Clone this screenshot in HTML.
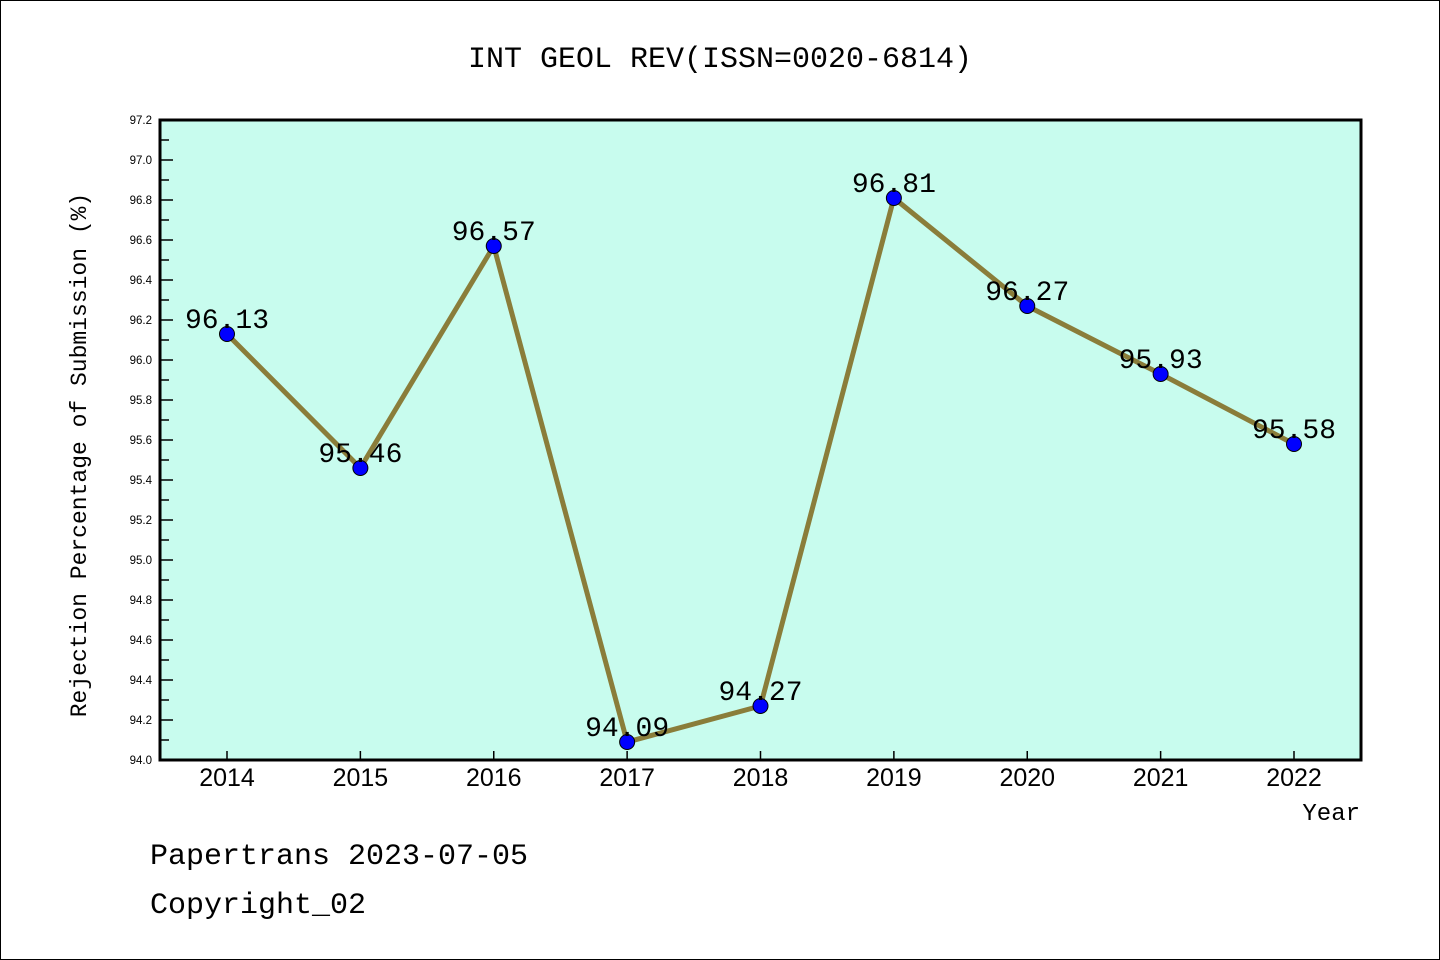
<!DOCTYPE html>
<html><head><meta charset="utf-8"><style>
html,body{margin:0;padding:0;background:#fff}
svg{display:block}
text{font-family:"Liberation Mono","WenQuanYi Zen Hei",monospace}
text.sans{font-family:"Liberation Sans",sans-serif}
</style></head><body>
<svg id="c" width="1440" height="960" viewBox="0 0 1440 960" xmlns="http://www.w3.org/2000/svg">
<rect x="0.5" y="0.5" width="1439" height="959" fill="#fff" stroke="#000" stroke-width="1"/>
<text x="720" y="67" text-anchor="middle" font-size="30">INT GEOL REV(ISSN=0020-6814)</text>
<rect x="160" y="120" width="1201" height="640" fill="#c8fcee"/>
<g id="axes"></g>
<g id="series"></g>
<rect x="160" y="120" width="1201" height="640" fill="none" stroke="#000" stroke-width="3"/>
<text x="86" y="455" transform="rotate(-90 86 455)" text-anchor="middle" font-size="23">Rejection Percentage of Submission (%)</text>
<text x="1360" y="820" text-anchor="end" font-size="24">Year</text>
<text x="150" y="864" font-size="30">Papertrans 2023-07-05</text>
<text x="150" y="913" font-size="30">Copyright_02</text>
</svg>
<script>
const years = ["2014","2015","2016","2017","2018","2019","2020","2021","2022"];
const values = [96.13,95.46,96.57,94.09,94.27,96.81,96.27,95.93,95.58];
const valueLabels = ["96.13","95.46","96.57","94.09","94.27","96.81","96.27","95.93","95.58"];
const yTicks = ["94.0","94.2","94.4","94.6","94.8","95.0","95.2","95.4","95.6","95.8","96.0","96.2","96.4","96.6","96.8","97.0","97.2"];
const NS="http://www.w3.org/2000/svg";
const yMin=94.0,yMax=97.2,plotTop=120,plotBot=760;
function yS(v){return plotBot-(v-yMin)/(yMax-yMin)*(plotBot-plotTop);}
function xS(i){return 227+i*133.375;}
function mk(t,a,p){const e=document.createElementNS(NS,t);for(const k in a)e.setAttribute(k,a[k]);p.appendChild(e);return e;}
const ax=document.getElementById('axes'), se=document.getElementById('series');
yTicks.forEach((t,i)=>{
  const y=yS(parseFloat(t));
  const l=mk('line',{x1:160,x2:173,y1:y,y2:y,stroke:'#000','stroke-width':1.5},ax);
  
  
  const tx=mk('text',{x:152,y:y+4,'text-anchor':'end','font-size':11.5,'class':'sans'},ax);
  tx.textContent=t;
  
  
  if(i<yTicks.length-1){
    const ym=yS(parseFloat(t)+0.1);
    const m=mk('line',{x1:160,x2:169,y1:ym,y2:ym,stroke:'#000','stroke-width':1.5},ax);
    
    
  }
});
years.forEach((yr,i)=>{
  const x=xS(i);
  const l=mk('line',{x1:x,x2:x,y1:760,y2:751,stroke:'#000','stroke-width':1.5},ax);
  
  
  const t=mk('text',{x:x,y:786,'text-anchor':'middle','font-size':25,'class':'sans'},ax);
  t.textContent=yr;
  
  
});
const pl=mk('polyline',{points:values.map((v,i)=>xS(i)+','+yS(v)).join(' '),fill:'none',stroke:'#8a7d3a','stroke-width':5,'stroke-linejoin':'round'},se);


values.forEach((v,i)=>{
  const c=mk('circle',{cx:xS(i),cy:yS(v),r:7.5,fill:'#0000ff',stroke:'#000','stroke-width':1},se);
  
  
  const t=mk('text',{x:xS(i),y:yS(v)-6,'text-anchor':'middle','font-size':28},se);
  t.textContent=valueLabels[i];
  
  
});
</script>
</body></html>
